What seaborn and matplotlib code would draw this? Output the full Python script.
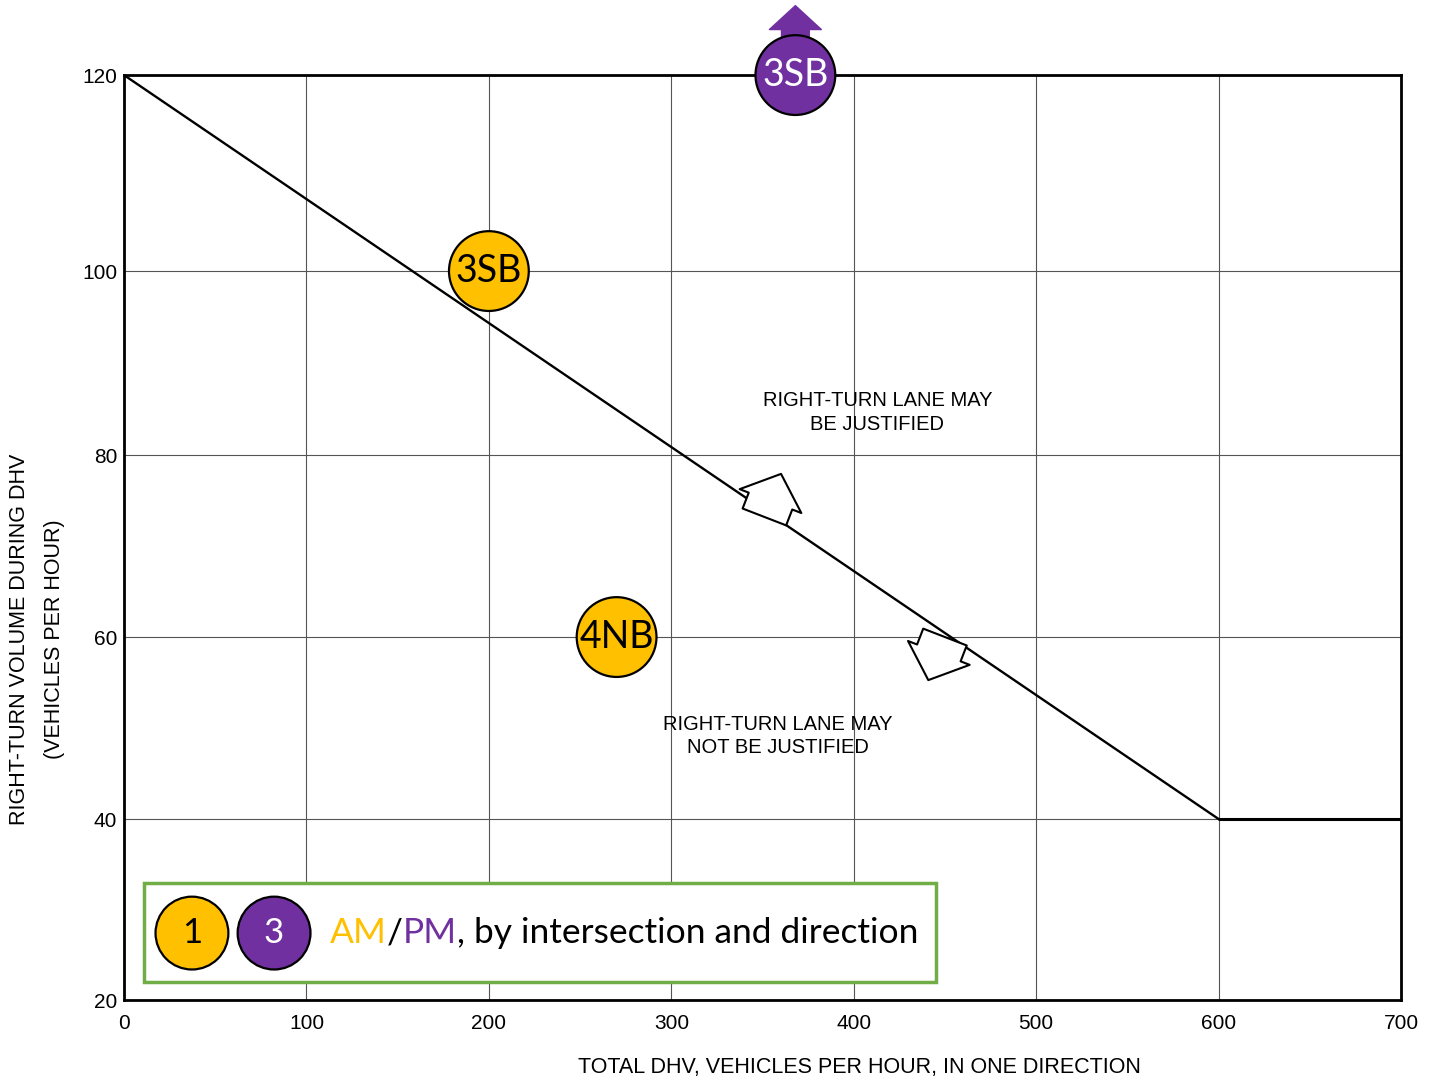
import numpy as np
import pandas as pd
import seaborn as sns
import matplotlib.pyplot as plt
from matplotlib.patches import Rectangle
from matplotlib.transforms import ScaledTranslation

# warrant threshold line
curve_x = [0, 600]
curve_y = [120, 40]
floor_x = [600, 700]
floor_y = [40, 40]

# observed right-turn volumes
labels = ["3SB", "4NB", "3SB"]
period = ["AM", "AM", "PM"]
total_dhv = [200, 270, 368]
right_turn = [100, 60, 120]

x_ticks = [0, 100, 200, 300, 400, 500, 600, 700]
y_ticks = [20, 40, 60, 80, 100, 120]
# scanned chart has slightly uneven row spacing
y_scale_pos = [0, 181, 363, 545, 729, 925]

# where the hollow arrows sit on the threshold line
arrow_x = [351, 450]

colors = {"AM": "#FFC000", "PM": "#7030A0"}
text_colors = {"AM": "black", "PM": "white"}

sns.set_theme(style="whitegrid")
plt.rcParams["font.family"] = ["Liberation Sans", "DejaVu Sans"]
plt.rcParams.update({"text.color": "black", "axes.labelcolor": "black",
                     "xtick.color": "black", "ytick.color": "black"})
calibri_like = ["Lato", "DejaVu Sans"]

fig = plt.figure(figsize=(14.37, 10.85), dpi=100)
ax = fig.add_axes([0.0863, 0.0783, 0.8887, 0.8525])
ax.set_facecolor("white")

fwd = lambda v: np.interp(v, y_ticks, y_scale_pos)
inv = lambda p: np.interp(p, y_scale_pos, y_ticks)
ax.set_yscale("function", functions=(fwd, inv))

sns.lineplot(x=curve_x, y=curve_y, ax=ax, color="black", lw=1.7, zorder=3)
sns.lineplot(x=floor_x, y=floor_y, ax=ax, color="black", lw=2.2, zorder=3)

df = pd.DataFrame({"label": labels, "period": period,
                   "dhv": total_dhv, "rt": right_turn})

# off-scale PM point gets an up arrow behind the circle
up = ax.transData + ScaledTranslation(0, 50 / 72, fig.dpi_scale_trans)
for _, r in df[df["rt"] >= 120].iterrows():
    ax.annotate("", xy=(r["dhv"], r["rt"]), xycoords=up,
                xytext=(r["dhv"], r["rt"]), textcoords="data",
                arrowprops=dict(arrowstyle="simple,head_length=0.86,head_width=1.87,tail_width=1.0",
                                mutation_scale=20, color=colors[r["period"]],
                                shrinkA=0, shrinkB=0),
                zorder=4, annotation_clip=False)

sns.scatterplot(data=df, x="dhv", y="rt", hue="period", palette=colors,
                s=3300, edgecolor="black", linewidth=1.6, legend=False,
                zorder=5, clip_on=False, ax=ax)
for _, r in df.iterrows():
    ax.text(r["dhv"], r["rt"], r["label"], color=text_colors[r["period"]],
            fontsize=27, family=calibri_like, ha="center", va="center",
            zorder=6, clip_on=False)

# hollow arrows either side of the line
for bx, sgn in zip(arrow_x, [1, -1]):
    by = np.interp(bx, curve_x, curve_y)
    tip = ax.transData + ScaledTranslation(sgn * 12 / 72, sgn * 31 / 72, fig.dpi_scale_trans)
    ax.annotate("", xy=(bx, by), xycoords=tip, xytext=(bx, by), textcoords="data",
                arrowprops=dict(arrowstyle="simple,head_length=0.75,head_width=1.7,tail_width=1.2",
                                mutation_scale=28, fc="white", ec="black", lw=1.5,
                                shrinkA=0, shrinkB=0),
                zorder=4)

ax.text(413, 84.6, "RIGHT-TURN LANE MAY\nBE JUSTIFIED", fontsize=14.5,
        ha="center", va="center", linespacing=1.3, zorder=4)
ax.text(358.5, 49.1, "RIGHT-TURN LANE MAY\nNOT BE JUSTIFIED", fontsize=14.5,
        ha="center", va="center", linespacing=1.3, zorder=4)

# legend box
ax.add_patch(Rectangle((0.0157, 0.0195), 0.6202, 0.107, transform=ax.transAxes,
                       fc="white", ec="#70AD47", lw=2.5, zorder=7))
leg_x = [0.0532, 0.1175]
ax.scatter(leg_x, [0.0724, 0.0724], s=2750, c=[colors["AM"], colors["PM"]],
           edgecolors="black", linewidths=1.6, transform=ax.transAxes,
           zorder=8, clip_on=False)
for lx, num, p in zip(leg_x, ["1", "3"], ["AM", "PM"]):
    ax.text(lx, 0.0724, num, color=text_colors[p], fontsize=25, family=calibri_like,
            ha="center", va="center", transform=ax.transAxes, zorder=9)

t = ax.text(0.1613, 0.0724, "AM", color=colors["AM"], fontsize=25.5, family=calibri_like,
            ha="left", va="center", transform=ax.transAxes, zorder=9)
for piece, c in [("/", "black"), ("PM", colors["PM"]),
                 (", by intersection and direction", "black")]:
    t = ax.annotate(piece, xy=(1, 0), xycoords=t, ha="left", va="bottom",
                    color=c, fontsize=25.5, family=calibri_like, zorder=9)

ax.set_xlim(0, 700)
ax.set_ylim(20, 120)
ax.set_xticks(x_ticks)
ax.set_yticks(y_ticks)
ax.grid(True, color="#555555", lw=0.8)
ax.set_axisbelow(True)
ax.tick_params(length=0)
ax.tick_params(axis="y", labelsize=15, pad=5)
ax.tick_params(axis="x", labelsize=15, pad=10)
for s in ax.spines.values():
    s.set_visible(True)
    s.set_color("black")
    s.set_linewidth(2)

ax.set_ylabel("RIGHT-TURN VOLUME DURING DHV\n(VEHICLES PER HOUR)", fontsize=15.5,
              linespacing=1.85, va="center")
ax.yaxis.set_label_coords(-0.068, 0.39)
ax.set_xlabel("TOTAL DHV, VEHICLES PER HOUR, IN ONE DIRECTION", fontsize=15.5)
ax.xaxis.set_label_coords(0.576, -0.062)

fig.savefig("out.png", dpi=100)
